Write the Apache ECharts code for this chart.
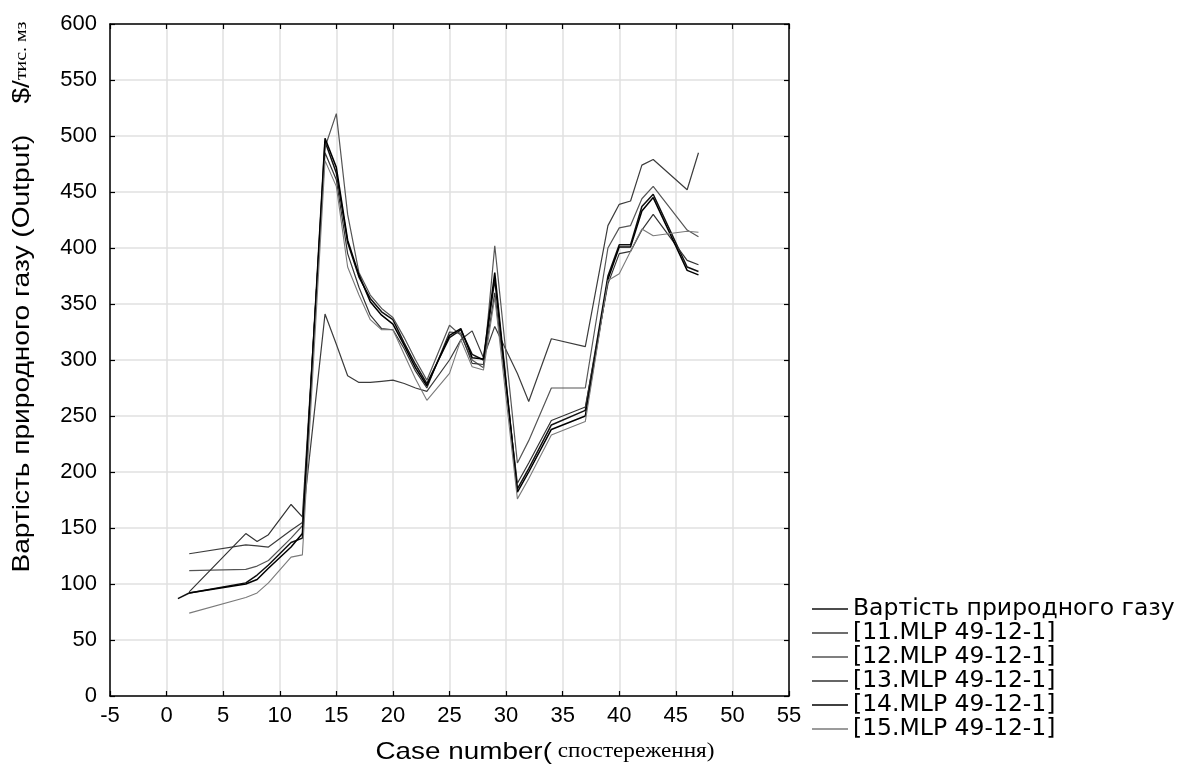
<!DOCTYPE html>
<html>
<head>
<meta charset="utf-8">
<script src="https://cdn.jsdelivr.net/npm/echarts@6/dist/echarts.min.js"></script>
<style>
  html, body { margin: 0; padding: 0; background: #ffffff; }
  #chart { width: 1181px; height: 780px; }
</style>
</head>
<body>
<div id="chart"></div>
<script>
// Case numbers of the observations (x positions shared by all series)
const caseNumbers = [1, 2, 7, 8, 9, 11, 12, 14, 15, 16, 17, 18, 19, 20, 21, 22, 23, 25, 26, 27, 28, 29, 31, 32, 34, 37, 39, 40, 41, 42, 43, 46, 47];

// Observed natural gas price, $/thousand m3
const observed = [87, 92, 101, 108, 117, 137, 141, 495, 467, 405, 374, 355, 343, 336, 315, 296, 279, 320, 327, 305, 300, 372, 185, 203, 242, 255, 375, 403, 403, 437, 448, 383, 379];
// Network predictions (no prediction for case 1)
const mlp11 = [null, 127, 135, 134, 133, 148, 155, 341, 314, 286, 280, 280, 281, 282, 279, 275, 272, 300, 318, 326, 302, 330, 288, 263, 319, 312, 420, 439, 442, 474, 479, 452, 485];
const mlp12 = [null, 112, 113, 116, 121, 141, 152, 490, 520, 430, 378, 358, 346, 338, 320, 300, 282, 331, 322, 300, 293, 402, 208, 228, 275, 275, 400, 418, 420, 444, 455, 416, 410];
const mlp13 = [null, 93, 145, 138, 144, 171, 160, 485, 461, 395, 365, 340, 328, 327, 310, 290, 275, 325, 324, 297, 296, 360, 190, 208, 246, 258, 368, 395, 397, 416, 430, 389, 385];
const mlp14 = [null, 92, 100, 104, 114, 133, 145, 498, 472, 407, 376, 352, 340, 332, 313, 293, 277, 322, 328, 302, 301, 378, 182, 200, 238, 250, 372, 401, 401, 433, 445, 380, 376];
const mlp15 = [null, 74, 88, 92, 101, 124, 126, 478, 455, 383, 358, 336, 327, 327, 305, 283, 264, 288, 318, 294, 291, 356, 176, 194, 233, 245, 371, 377, 397, 417, 411, 415, 414];

const seriesNames = ['Вартість природного газу', '[11.MLP 49-12-1]', '[12.MLP 49-12-1]', '[13.MLP 49-12-1]', '[14.MLP 49-12-1]', '[15.MLP 49-12-1]'];
const seriesValues = [observed, mlp11, mlp12, mlp13, mlp14, mlp15];
const seriesColors = ['#111111', '#3c3c3c', '#555555', '#333333', '#000000', '#7a7a7a'];
const seriesWidths = [1.5, 1.2, 1.2, 1.2, 1.5, 1.1];

// Axis ranges
const xMin = -5, xMax = 55, xStep = 5;
const yMin = 0, yMax = 600, yStep = 50;

const sans = "'Liberation Sans', Arial, sans-serif";
const wideSans = "'DejaVu Sans', sans-serif";
const serif = "'Liberation Serif', 'Times New Roman', serif";

const chart = echarts.init(document.getElementById('chart'), null, { renderer: 'canvas' });

const series = seriesValues.map((vals, i) => ({
  name: seriesNames[i],
  type: 'line',
  data: caseNumbers.map((c, j) => [c, vals[j]]).filter(p => p[1] !== null),
  symbol: 'none',
  showSymbol: false,
  lineStyle: { color: seriesColors[i], width: seriesWidths[i] },
  itemStyle: { color: seriesColors[i] },
  emphasis: { disabled: true },
  z: 3
}));

const frameLine = { show: true, onZero: false, lineStyle: { color: '#000', width: 1.5 } };
const innerTick = { show: true, inside: true, length: 5, lineStyle: { color: '#000', width: 1.2 } };
const gridLine = { show: true, lineStyle: { color: '#e0e0e0', width: 1.5 } };

const option = {
  animation: false,
  backgroundColor: '#ffffff',
  grid: { left: 110, right: 392, top: 24, bottom: 84, containLabel: false },
  xAxis: [
    {
      type: 'value', min: xMin, max: xMax, interval: xStep, position: 'bottom',
      axisLine: frameLine, axisTick: innerTick, splitLine: gridLine,
      axisLabel: { color: '#000', fontSize: 22, fontFamily: sans, margin: 9, showMinLabel: true, showMaxLabel: true }
    },
    {
      type: 'value', min: xMin, max: xMax, interval: xStep, position: 'top',
      axisLine: frameLine, axisTick: innerTick, splitLine: { show: false },
      axisLabel: { show: false }
    }
  ],
  yAxis: [
    {
      type: 'value', min: yMin, max: yMax, interval: yStep, position: 'left',
      axisLine: frameLine, axisTick: innerTick, splitLine: gridLine,
      axisLabel: { color: '#000', fontSize: 22, fontFamily: sans, margin: 13, showMinLabel: true, showMaxLabel: true }
    },
    {
      type: 'value', min: yMin, max: yMax, interval: yStep, position: 'right',
      axisLine: frameLine, axisTick: innerTick, splitLine: { show: false },
      axisLabel: { show: false }
    }
  ],
  legend: {
    orient: 'vertical',
    left: 812,
    top: 597,
    padding: 0,
    icon: 'rect',
    itemWidth: 36,
    itemHeight: 1.5,
    itemGap: 0,
    selectedMode: false,
    data: seriesNames,
    textStyle: { color: '#000', fontSize: 23.5, fontFamily: wideSans, lineHeight: 23, padding: 0 }
  },
  graphic: [
    {
      type: 'text',
      x: 545, y: 752,
      scaleX: 1.16,
      style: {
        text: '{a|Case number(}{b| спостереження)}',
        align: 'center', verticalAlign: 'middle',
        rich: {
          a: { fontSize: 24, fontFamily: sans, fill: '#000' },
          b: { fontSize: 20, fontFamily: serif, fill: '#000' }
        }
      }
    },
    {
      type: 'text',
      x: 22, y: 297,
      rotation: Math.PI / 2,
      scaleX: 1.17,
      style: {
        text: '{a|Вартість природного газу (Output)}{a|    $/}{b|тис. мз}',
        align: 'center', verticalAlign: 'middle',
        rich: {
          a: { fontSize: 24, fontFamily: sans, fill: '#000' },
          b: { fontSize: 17, fontFamily: serif, fill: '#000' }
        }
      }
    }
  ],
  series: series
};

chart.setOption(option);
</script>
</body>
</html>
